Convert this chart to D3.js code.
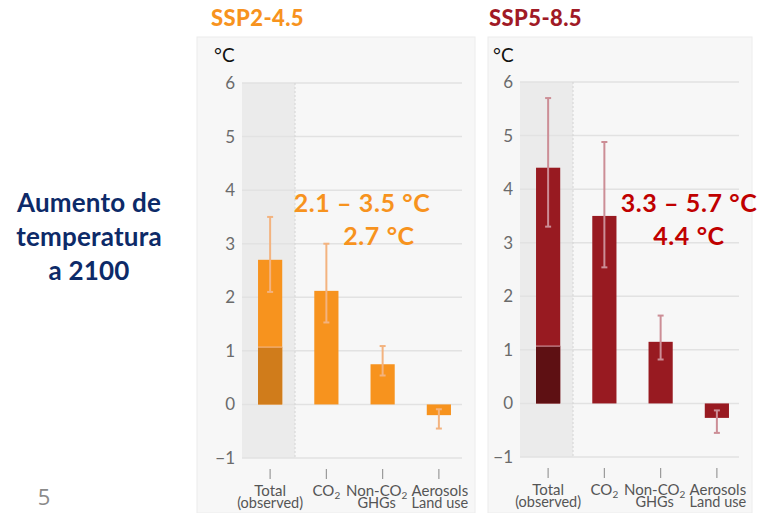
<!DOCTYPE html>
<html>
<head>
<meta charset="utf-8">
<script src="https://cdn.jsdelivr.net/npm/d3@7"></script>
<style>
  html, body { margin: 0; padding: 0; background: #fff; }
  svg { display: block; }
</style>
</head>
<body>
<svg id="chart" width="759" height="513"></svg>
<script>
// ---- data ----
const categories = ["Total (observed)", "CO2", "Non-CO2 GHGs", "Aerosols Land use"];
const yTicks = [-1, 0, 1, 2, 3, 4, 5, 6];

const ssp245Values = [2.7, 2.12, 0.75, -0.2];
const ssp245Low = [2.1, 1.53, 0.54, -0.45];
const ssp245High = [3.5, 3.0, 1.09, -0.09];
const ssp245Observed = 1.07;

const ssp585Values = [4.4, 3.5, 1.15, -0.27];
const ssp585Low = [3.3, 2.54, 0.82, -0.55];
const ssp585High = [5.7, 4.88, 1.64, -0.13];
const ssp585Observed = 1.07;

const svg = d3.select("#chart");

// side title
const sideLines = ["Aumento de", "temperatura", "a 2100"];
svg.append("g").selectAll("text")
    .data(sideLines)
    .join("text")
    .attr("x", 89)
    .attr("y", (d, i) => [212, 246, 280][i])
    .attr("text-anchor", "middle")
    .style("font-family", "Lato, 'Open Sans', sans-serif")
    .style("font-weight", 700)
    .style("font-size", "26px")
    .style("letter-spacing", "0.2px")
    .style("fill", "#0d2a68")
    .text(d => d);

// page number
svg.append("text")
    .attr("x", 44).attr("y", 505)
    .attr("text-anchor", "middle")
    .style("font-family", "'Open Sans', sans-serif")
    .style("font-size", "22px")
    .style("fill", "#8a8a8a")
    .text("5");

// writes "CO2" style labels with a real subscript
function writeLabel(sel, str) {
    const parts = str.split("_");
    sel.append("tspan").text(parts[0]);
    if (parts.length > 1) {
        sel.append("tspan")
            .attr("dy", 3)
            .style("font-size", "10px")
            .text(parts[1]);
    }
}

function drawPanel(opt) {
    const g = svg.append("g");

    // panel background
    g.append("rect")
        .attr("x", opt.bgX0).attr("y", 37)
        .attr("width", opt.bgX1 - opt.bgX0).attr("height", 476)
        .attr("fill", "#f7f7f7")
        .attr("stroke", "#ececec");

    // title
    g.append("text")
        .attr("x", opt.titleX).attr("y", 26)
        .style("font-family", "Lato, sans-serif")
        .style("font-weight", 900)
        .style("font-size", "22px")
        .style("letter-spacing", "0.4px")
        .style("fill", opt.titleColor)
        .text(opt.title);

    // unit label
    g.append("text")
        .attr("x", opt.unitX).attr("y", 62)
        .style("font-family", "Lato, sans-serif")
        .style("font-size", "19px")
        .style("fill", "#111")
        .text("°C");

    const y = d3.scaleLinear().domain([-1, 6]).range([opt.yBottom, opt.yBottom - 375]);
    const x = d3.scaleBand().domain(categories).range([opt.x0, opt.x0 + 225]).paddingInner(0.57).paddingOuter(0.285);

    // observed shaded column
    g.append("rect")
        .attr("x", opt.x0)
        .attr("y", y(6))
        .attr("width", opt.shadeW)
        .attr("height", y(-1) - y(6))
        .attr("fill", "#ebebeb");

    // gridlines
    g.append("g").selectAll("line")
        .data(yTicks)
        .join("line")
        .attr("x1", opt.x0).attr("x2", opt.gridX1)
        .attr("y1", d => y(d)).attr("y2", d => y(d))
        .attr("stroke", "#e2e2e2")
        .attr("stroke-width", 1.5);

    // dotted divider
    g.append("line")
        .attr("x1", opt.x0 + opt.shadeW).attr("x2", opt.x0 + opt.shadeW)
        .attr("y1", y(6)).attr("y2", y(-1))
        .attr("stroke", "#d4d4d4")
        .attr("stroke-dasharray", "2,2");

    // y axis labels
    g.append("g").selectAll("text")
        .data(yTicks)
        .join("text")
        .attr("x", opt.x0 - 7)
        .attr("y", d => y(d) + 6)
        .attr("text-anchor", "end")
        .style("font-family", "Lato, sans-serif")
        .style("font-size", "17px")
        .style("fill", "#6b6b6b")
        .text(d => d < 0 ? "\u2212" + Math.abs(d) : d);

    // bars
    g.append("g").selectAll("rect")
        .data(opt.values)
        .join("rect")
        .attr("x", (d, i) => x(categories[i]))
        .attr("width", x.bandwidth())
        .attr("y", d => y(Math.max(0, d)))
        .attr("height", d => Math.abs(y(d) - y(0)))
        .attr("fill", opt.barColor);

    // observed part of total
    g.append("rect")
        .attr("x", x(categories[0]))
        .attr("width", x.bandwidth())
        .attr("y", y(opt.observed))
        .attr("height", y(0) - y(opt.observed))
        .attr("fill", opt.darkColor);
    g.append("line")
        .attr("x1", x(categories[0])).attr("x2", x(categories[0]) + x.bandwidth())
        .attr("y1", y(opt.observed)).attr("y2", y(opt.observed))
        .attr("stroke", opt.errColor)
        .attr("stroke-width", 1.2);

    // error bars
    const err = g.append("g")
        .attr("stroke", opt.errColor)
        .attr("stroke-width", 2);
    categories.forEach((c, i) => {
        const cx = x(c) + x.bandwidth() / 2;
        err.append("line").attr("x1", cx).attr("x2", cx)
            .attr("y1", y(opt.high[i])).attr("y2", y(opt.low[i]));
        err.append("line").attr("x1", cx - 3).attr("x2", cx + 3)
            .attr("y1", y(opt.high[i])).attr("y2", y(opt.high[i]));
        err.append("line").attr("x1", cx - 3).attr("x2", cx + 3)
            .attr("y1", y(opt.low[i])).attr("y2", y(opt.low[i]));
    });

    // category ticks and labels
    const labelLines = [["Total", "(observed)"], ["CO_2"], ["Non-CO_2", "GHGs"], ["Aerosols", "Land use"]];
    const labelShift = [0, 0, -6, 1];
    categories.forEach((c, i) => {
        const cx = x(c) + x.bandwidth() / 2;
        g.append("line")
            .attr("x1", cx).attr("x2", cx)
            .attr("y1", opt.yBottom + 11).attr("y2", opt.yBottom + 21)
            .attr("stroke", "#9a9a9a")
            .attr("stroke-width", 1.2);
        labelLines[i].forEach((line, j) => {
            g.append("text")
                .attr("x", cx + labelShift[i])
                .attr("y", opt.yBottom + 38 + j * 11.5)
                .attr("text-anchor", "middle")
                .style("font-family", "Lato, sans-serif")
                .style("font-size", j === 0 ? "15px" : "14.5px")
                .style("fill", "#555")
                .call(writeLabel, line);
        });
    });

    // annotation
    g.append("g").selectAll("text")
        .data(opt.note)
        .join("text")
        .attr("x", (d, i) => opt.noteX[i])
        .attr("y", (d, i) => [212, 245][i])
        .attr("text-anchor", "middle")
        .style("font-family", "Lato, sans-serif")
        .style("font-weight", 700)
        .style("font-size", "25px")
        .style("letter-spacing", "0.6px")
        .style("fill", opt.noteColor)
        .text(d => d);
}

drawPanel({
    title: "SSP2-4.5", titleX: 211, titleColor: "#f7931e",
    bgX0: 197, bgX1: 475, unitX: 214,
    x0: 242, gridX1: 462, shadeW: 53, yBottom: 458,
    values: ssp245Values, low: ssp245Low, high: ssp245High, observed: ssp245Observed,
    barColor: "#f7931e", darkColor: "#d07c1b", errColor: "#f3b37f",
    note: ["2.1 \u2013 3.5 \u00b0C", "2.7 \u00b0C"], noteX: [362, 379], noteColor: "#f7931e"
});

drawPanel({
    title: "SSP5-8.5", titleX: 489, titleColor: "#a01a26",
    bgX0: 488, bgX1: 752, unitX: 493,
    x0: 520, gridX1: 739, shadeW: 53, yBottom: 457,
    values: ssp585Values, low: ssp585Low, high: ssp585High, observed: ssp585Observed,
    barColor: "#981a21", darkColor: "#5e1013", errColor: "#cc8e96",
    note: ["3.3 \u2013 5.7 \u00b0C", "4.4 \u00b0C"], noteX: [689, 689], noteColor: "#c00000"
});
</script>
</body>
</html>
